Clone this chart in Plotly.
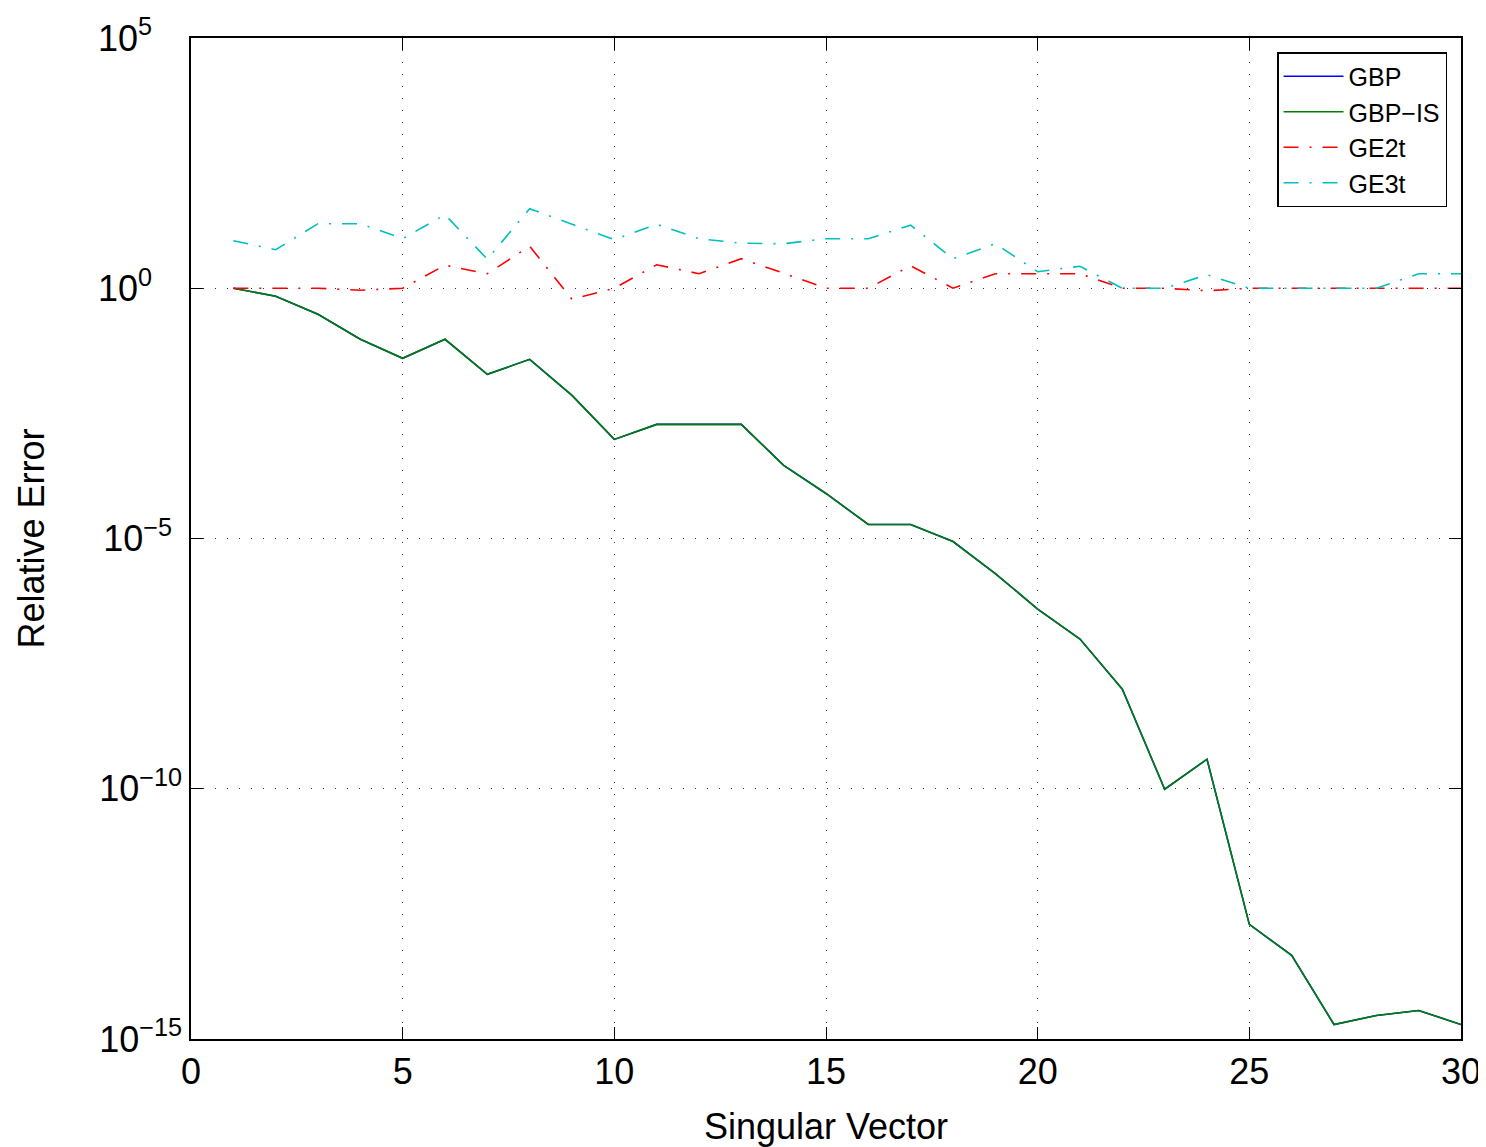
import plotly.graph_objects as go

x = list(range(1, 31))
# log10 of relative error
gbp_log = [0, -0.16, -0.52, -1.02, -1.40, -1.02, -1.72, -1.42, -2.14, -3.02,
           -2.72, -2.72, -2.72, -3.54, -4.10, -4.72, -4.72, -5.06, -5.70, -6.41,
           -7.01, -8.01, -10.01, -9.41, -12.71, -13.33, -14.71, -14.53, -14.43, -14.71]
gbpis_log = list(gbp_log)
ge2t_log = [0, 0, 0, -0.04, 0, 0.46, 0.29, 0.84, -0.22, 0,
            0.47, 0.29, 0.59, 0.30, 0, 0, 0.45, 0, 0.29, 0.29,
            0.29, 0, 0, -0.05, 0, 0, 0, 0, 0, 0]
ge3t_log = [0.95, 0.77, 1.29, 1.29, 0.99, 1.47, 0.58, 1.59, 1.28, 0.97,
            1.28, 0.99, 0.90, 0.89, 0.99, 0.99, 1.26, 0.59, 0.89, 0.33,
            0.44, 0, 0, 0.27, 0, 0, 0, 0, 0.29, 0.29]

series = [
    ("GBP", gbp_log, "#0000ff", "solid"),
    ("GBP\u2212IS", gbpis_log, "#008000", "solid"),
    ("GE2t", ge2t_log, "#ff0000", "15px,11px,2px,11px"),
    ("GE3t", ge3t_log, "#00bfbf", "15px,11px,2px,11px"),
]

x_ticks = [0, 5, 10, 15, 20, 25, 30]
y_exps = [-15, -10, -5, 0, 5]
y_pad = {-15: "", -10: "", -5: "\u00a0", 0: "\u00a0\u00a0\u00a0", 5: "\u00a0\u00a0\u00a0"}
y_ticktext = ["10<sup>" + str(e).replace("-", "\u2212") + "</sup>" + y_pad[e] for e in y_exps]

fig = go.Figure()
for name, vals, color, dash in series:
    fig.add_trace(go.Scatter(
        x=x, y=[10 ** v for v in vals], mode="lines", name=name,
        line=dict(color=color, width=1.6, dash=dash),
    ))

font = "Liberation Sans, Arial, Helvetica, sans-serif"
fig.update_layout(
    width=1478, height=1139,
    margin=dict(l=183, r=25, t=30, b=108, autoexpand=False),
    paper_bgcolor="white", plot_bgcolor="white",
    font=dict(family=font, size=36, color="black"),
    showlegend=True,
    legend=dict(
        x=0.989, y=0.986, xanchor="right", yanchor="top",
        bgcolor="white", bordercolor="black", borderwidth=1.5,
        font=dict(size=25, family=font),
        tracegroupgap=0, itemwidth=60, entrywidth=125,
    ),
    xaxis=dict(
        range=[0, 30], tickvals=x_ticks, ticktext=[str(t) for t in x_ticks],
        showline=True, linecolor="black", linewidth=1.5, mirror="ticks",
        ticks="inside", ticklen=12, tickwidth=1.2, tickcolor="black",
        showgrid=True, gridcolor="#333333", gridwidth=1, griddash="1px,11px",
        zeroline=False,
        title=dict(text="Singular Vector", font=dict(size=36), standoff=28),
        tickfont=dict(size=36),
    ),
    yaxis=dict(
        type="log", range=[-15, 5],
        tickvals=[10 ** e for e in y_exps], ticktext=y_ticktext,
        showline=True, linecolor="black", linewidth=1.5, mirror="ticks",
        ticks="inside", ticklen=12, tickwidth=1.2, tickcolor="black",
        showgrid=True, gridcolor="#333333", gridwidth=1, griddash="1px,11px",
        zeroline=False, minor=dict(showgrid=False, ticks=""),
        title=dict(text="Relative Error", font=dict(size=36), standoff=42),
        tickfont=dict(size=36),
    ),
)

fig.write_html("out.html")
